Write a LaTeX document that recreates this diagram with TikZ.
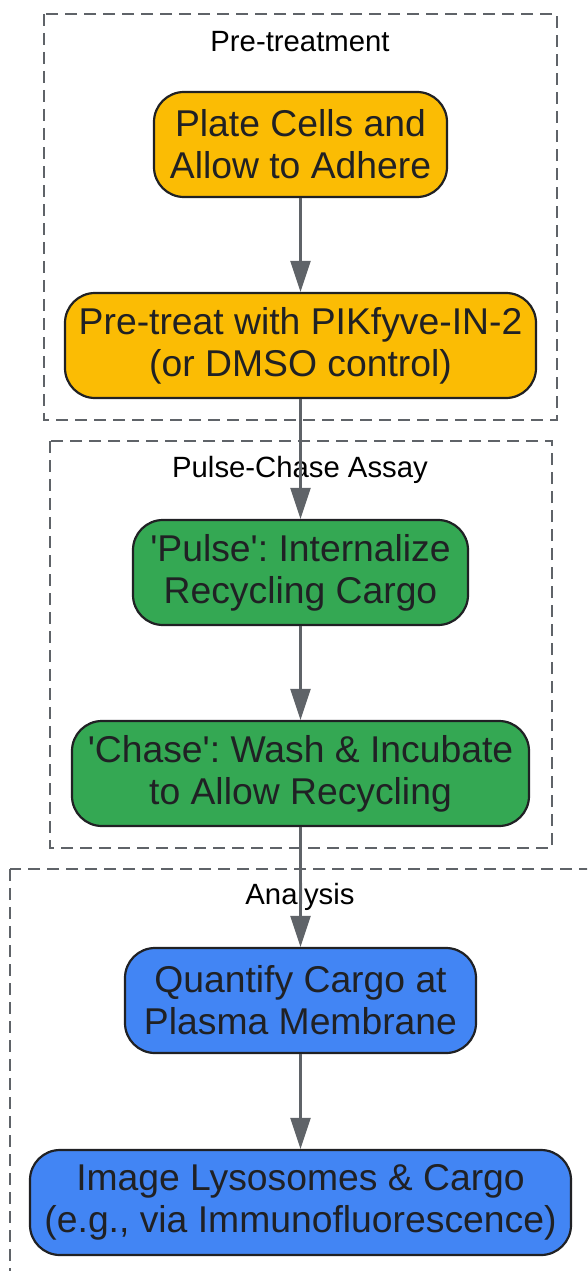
\documentclass[tikz,border=0pt]{standalone}
\usepackage{fontspec}
\setmainfont{Liberation Sans}
\usetikzlibrary{arrows.meta}
\definecolor{yel}{HTML}{FBBC04}
\definecolor{grn}{HTML}{34A853}
\definecolor{blu}{HTML}{4285F4}
\definecolor{edge}{HTML}{202124}
\definecolor{arr}{HTML}{5F6368}
\frenchspacing
\begin{document}
\begin{tikzpicture}[x=1pt,y=-1pt,
  stepbox/.style={draw=edge, line width=2.2pt, rounded corners=30pt, align=center,
    text=edge, font=\fontsize{37.3}{42}\selectfont\frenchspacing, inner sep=0pt, minimum height=105pt},
  grp/.style={draw=arr, line width=2.5pt, dash pattern=on 12pt off 7pt},
  grplabel/.style={font=\fontsize{29.3}{34}\selectfont, text=black},
  flow/.style={draw=arr, line width=2.5pt, -{Triangle[length=31pt,width=20pt]}}]
\useasboundingbox (0,0) rectangle (587,1271);
\clip (0,0) rectangle (587,1271);
% groups
\draw[grp] (44,14) rectangle (557,420);
\node[grplabel] (l1) at (300,42) {Pre-treatment};
\draw[grp] (50,441) rectangle (552,848);
\node[grplabel] (l2) at (300,470) {Pulse-Chase Assay};
\draw[grp] (10,869) rectangle (620,1300);
\node[grplabel] (l3) at (300,897) {Analysis};
% nodes
\node[stepbox, fill=yel, minimum width=293pt] (n1) at (300.5,144.5) {Plate Cells and\\Allow to Adhere};
\node[stepbox, fill=yel, minimum width=471pt] (n2) at (300.5,345.5) {Pre-treat with PIKfyve-IN-2\\(or DMSO control)};
\node[stepbox, fill=grn, minimum width=335pt] (n3) at (300.5,572.5) {\textquotesingle Pulse\textquotesingle: Internalize\\Recycling Cargo};
\node[stepbox, fill=grn, minimum width=457pt] (n4) at (300.5,773.5) {\textquotesingle Chase\textquotesingle: Wash \& Incubate\\to Allow Recycling};
\node[stepbox, fill=blu, minimum width=351pt] (n5) at (300.5,1000.5) {Quantify Cargo at\\Plasma Membrane};
\node[stepbox, fill=blu, minimum width=541pt] (n6) at (300.5,1202.5) {Image Lysosomes \& Cargo\\(e.g., via Immunofluorescence)};
% connectors
\draw[flow] (n1) -- (n2);
\draw[flow] (n2) -- (n3);
\draw[flow] (n3) -- (n4);
\draw[flow] (n4) -- (n5);
\draw[flow] (n5) -- (n6);
\end{tikzpicture}
\end{document}
